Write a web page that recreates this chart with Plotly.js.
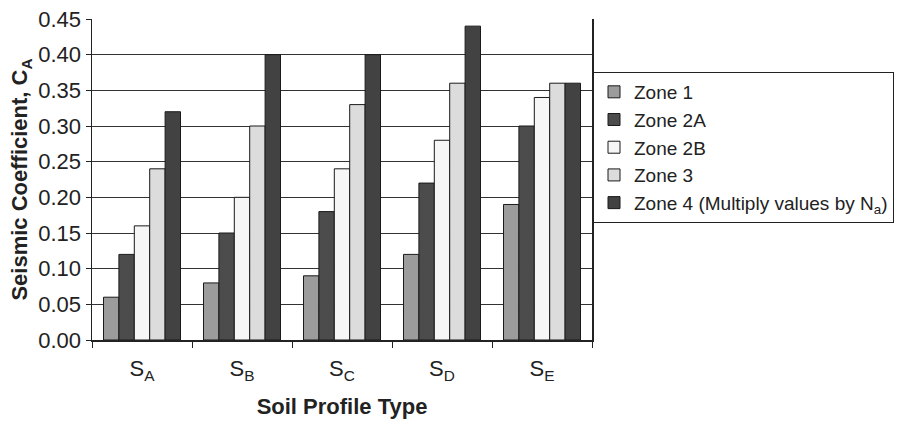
<!DOCTYPE html>
<html>
<head>
<meta charset="utf-8">
<script src="https://cdn.plot.ly/plotly-3.0.1.min.js"></script>
<style>html,body{margin:0;padding:0;background:#fff;}#chart{width:903px;height:423px;}</style>
</head>
<body>
<div id="chart"></div>
<script>
const categories = ["S<sub>A</sub>", "S<sub>B</sub>", "S<sub>C</sub>", "S<sub>D</sub>", "S<sub>E</sub>"];
const seriesNames = ["Zone 1", "Zone 2A", "Zone 2B", "Zone 3", "Zone 4 (Multiply values by N<sub>a</sub>)"];
const zone1 = [0.06, 0.08, 0.09, 0.12, 0.19];
const zone2A = [0.12, 0.15, 0.18, 0.22, 0.30];
const zone2B = [0.16, 0.20, 0.24, 0.28, 0.34];
const zone3 = [0.24, 0.30, 0.33, 0.36, 0.36];
const zone4 = [0.32, 0.40, 0.40, 0.44, 0.36];
const yTicks = [0, 0.05, 0.10, 0.15, 0.20, 0.25, 0.30, 0.35, 0.40, 0.45];

const values = [zone1, zone2A, zone2B, zone3, zone4];
const colors = ["#9c9c9c", "#4c4c4c", "#f6f6f6", "#dcdcdc", "#424242"];

const traces = values.map((v, i) => ({
  type: "bar",
  name: seriesNames[i],
  x: categories,
  y: v,
  marker: {color: colors[i], line: {color: "#1a1a1a", width: 1}},
  hoverinfo: "skip"
}));

const font = "Liberation Sans, Arial, Helvetica, sans-serif";
const layout = {
  width: 903, height: 423,
  margin: {l: 92, r: 311, t: 19, b: 83, pad: 0, autoexpand: false},
  paper_bgcolor: "#fff", plot_bgcolor: "#fff",
  barmode: "group", bargap: 0.23, bargroupgap: 0,
  font: {family: font, color: "#222", size: 19},
  showlegend: true,
  legend: {
    x: 1.002, y: 0.835, xanchor: "left", yanchor: "top",
    bordercolor: "#222", borderwidth: 1, bgcolor: "#fff",
    font: {family: font, size: 19, color: "#222"},
    traceorder: "normal", tracegroupgap: 0, itemwidth: 30
  },
  xaxis: {
    type: "category",
    showline: true, linecolor: "#222", linewidth: 1.5,
    ticks: "outside", tickson: "boundaries", ticklen: 6, tickcolor: "#222",
    ticklabelstandoff: 8,
    tickfont: {family: font, size: 22, color: "#222"},
    showgrid: false, mirror: false,
    title: {text: "Soil Profile Type", font: {family: font, size: 22, color: "#222", weight: "bold"}, standoff: 16}
  },
  yaxis: {
    range: [0, 0.45], tickvals: yTicks, tickformat: ".2f",
    showline: true, linecolor: "#222", linewidth: 1.5, mirror: true,
    ticks: "outside", ticklen: 5, tickcolor: "#222",
    showgrid: true, gridcolor: "#333", gridwidth: 1,
    zeroline: false,
    tickfont: {family: font, size: 22, color: "#222"},
    title: {text: "Seismic Coefficient, C<sub>A</sub>", font: {family: font, size: 22, color: "#222", weight: "bold"}, standoff: 4}
  }
};

Plotly.newPlot("chart", traces, layout, {displayModeBar: false, staticPlot: true});
</script>
</body>
</html>
